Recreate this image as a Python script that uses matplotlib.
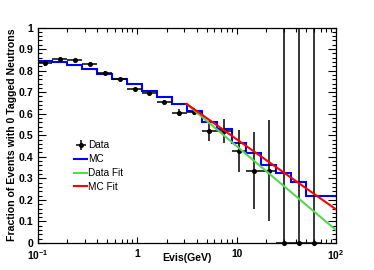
import numpy as np
import matplotlib
matplotlib.use("Agg")
import matplotlib.pyplot as plt
from matplotlib.ticker import FixedLocator, FixedFormatter, LogLocator, NullFormatter, MultipleLocator
from matplotlib.lines import Line2D

plt.rcParams['font.family'] = ['Liberation Sans', 'DejaVu Sans']
plt.rcParams['mathtext.fontset'] = 'custom'
plt.rcParams['mathtext.rm'] = 'Liberation Sans:bold'
plt.rcParams['mathtext.it'] = 'Liberation Sans:bold'
plt.rcParams['mathtext.bf'] = 'Liberation Sans:bold'
plt.rcParams['mathtext.default'] = 'rm'

# ---- data ----
bin_edges = [0.1, 0.1413, 0.1995, 0.2818, 0.3981, 0.5623, 0.7943, 1.122, 1.585,
             2.239, 3.162, 4.467, 6.310, 8.913, 12.59, 17.78, 25.12, 35.48,
             50.12, 70.79, 100.0]
mc_frac = [0.846, 0.841, 0.828, 0.807, 0.783, 0.760, 0.736, 0.705, 0.679, 0.645,
           0.614, 0.563, 0.528, 0.463, 0.416, 0.364, 0.324, 0.282, 0.220, 0.218]
data_frac = [0.834, 0.852, 0.849, 0.832, 0.791, 0.760, 0.713, 0.697, 0.656, 0.604,
             0.610, 0.520, 0.520, 0.428, 0.335, 0.335, 0.0, 0.0, 0.0, np.nan]
data_err = [0.013, 0.006, 0.006, 0.006, 0.006, 0.006, 0.006, 0.006, 0.007, 0.016,
            0.017, 0.046, 0.055, 0.098, 0.178, 0.235, 1.0, 1.0, 1.0, np.nan]
fit_x = [3.162, 100.0]
data_fit_y = [0.645, 0.060]
mc_fit_y = [0.645, 0.156]

xtick_vals = [0.1, 1, 10, 100]
xtick_labels = [r'$10^{-1}$', '1', '10', r'$10^{2}$']
ytick_vals = [0, 0.1, 0.2, 0.3, 0.4, 0.5, 0.6, 0.7, 0.8, 0.9, 1.0]
ytick_labels = ['0', '0.1', '0.2', '0.3', '0.4', '0.5', '0.6', '0.7', '0.8', '0.9', '1']

# ---- figure ----
W, H = 374, 270
fig = plt.figure(figsize=(W / 100, H / 100), dpi=100)
L, R, T, B = 37.5, 336, 27.5, 243
ax = fig.add_axes([L / W, 1 - B / H, (R - L) / W, (B - T) / H])

edges = np.array(bin_edges)
lo, hi = edges[:-1], edges[1:]
centers = np.sqrt(lo * hi)

ax.stairs(mc_frac, edges, baseline=None, color='#0000ff', lw=1.5, zorder=2)

dy = np.array(data_frac)
de = np.array(data_err)
err_lo = np.minimum(de, dy)
eb = ax.errorbar(centers, dy, yerr=[err_lo, de], xerr=[centers - lo, hi - centers],
                 fmt='o', ms=2.6, color='black', ecolor='black', elinewidth=1.1,
                 capsize=0, zorder=3, clip_on=False)
for part in eb.lines[2]:
    part.set_clip_on(False)

ln_dfit, = ax.plot(fit_x, data_fit_y, color='#55d655', lw=1.5, zorder=4)
ln_mfit, = ax.plot(fit_x, mc_fit_y, color='#ff0000', lw=1.5, zorder=4)

ax.set_xscale('log')
ax.set_xlim(0.1, 100)
ax.set_ylim(0, 1)

ax.xaxis.set_major_locator(FixedLocator(xtick_vals))
ax.xaxis.set_major_formatter(FixedFormatter(xtick_labels))
ax.xaxis.set_minor_locator(LogLocator(base=10, subs=np.arange(2, 10), numticks=20))
ax.xaxis.set_minor_formatter(NullFormatter())
ax.yaxis.set_major_locator(FixedLocator(ytick_vals))
ax.yaxis.set_major_formatter(FixedFormatter(ytick_labels))
ax.yaxis.set_minor_locator(MultipleLocator(0.02))

ax.tick_params(axis='both', which='both', direction='in', top=True, right=True,
               width=0.8, color='black')
ax.tick_params(axis='x', which='major', length=4.6, pad=4.0, labelsize=7.4)
ax.tick_params(axis='x', which='minor', length=2.6)
ax.tick_params(axis='y', which='major', length=5.6, pad=3.0, labelsize=7.6)
ax.tick_params(axis='y', which='minor', length=2.9)
for lab in ax.get_xticklabels() + ax.get_yticklabels():
    lab.set_fontweight('bold')
for sp in ax.spines.values():
    sp.set_linewidth(0.9)

fig.text(186.75 / W, 1 - 258 / H, 'Evis(GeV)', ha='center', va='center',
         fontsize=7.6, fontweight='bold')
fig.text(12 / W, 1 - 135 / H, 'Fraction of Events with 0 Tagged Neutrons',
         rotation=90, ha='center', va='center', fontsize=7.6, fontweight='bold')

hs = [eb, Line2D([], [], color='#0000ff', lw=1.5), ln_dfit, ln_mfit]
labels = ['Data', 'MC', 'Data Fit', 'MC Fit']
leg = fig.legend(hs, labels, loc='upper left', bbox_to_anchor=(74 / W, 1 - 140.5 / H),
                 frameon=False, fontsize=7.2, handlelength=1.3, handletextpad=0.15,
                 labelspacing=0.38, borderpad=0, borderaxespad=0)

fig.savefig('out.png', dpi=100)
